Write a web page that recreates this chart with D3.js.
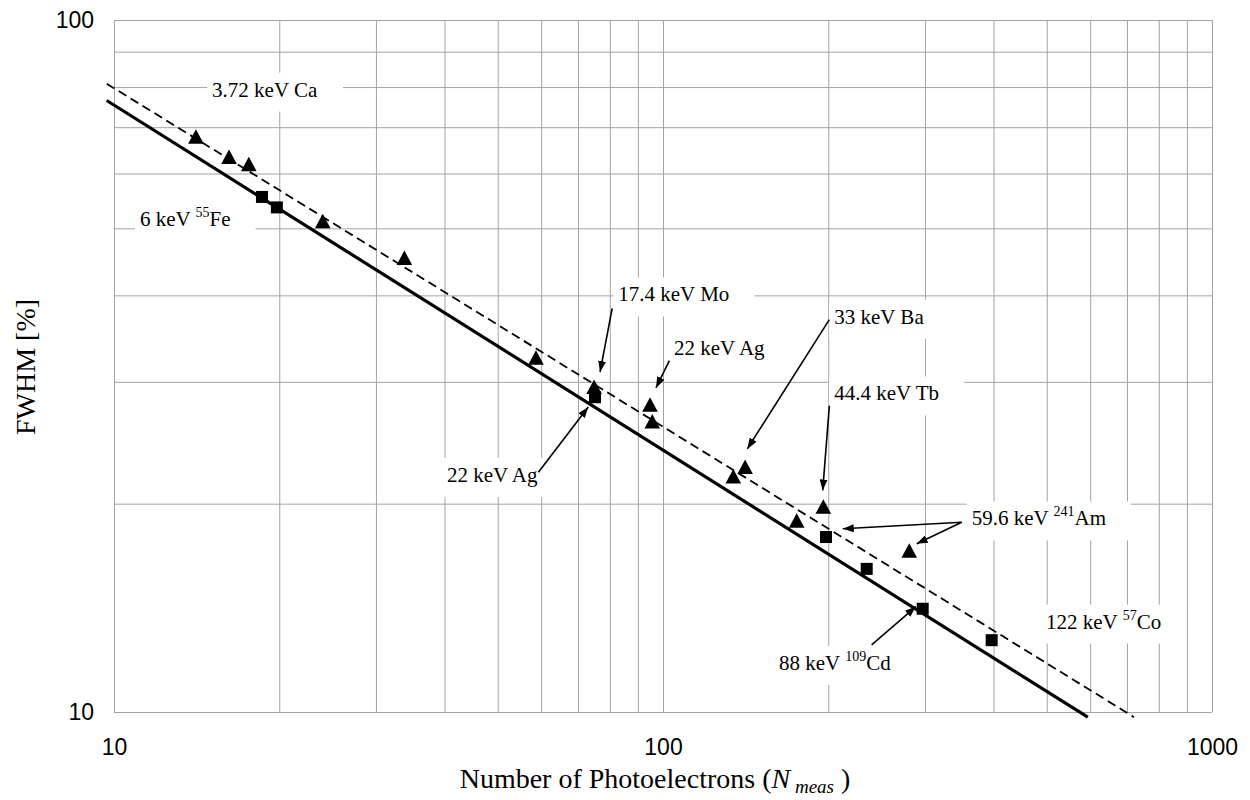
<!DOCTYPE html>
<html>
<head>
<meta charset="utf-8">
<script src="https://cdn.jsdelivr.net/npm/d3@7"></script>
<style>
  html, body { margin: 0; padding: 0; background: #fff; }
  svg { display: block; }
</style>
</head>
<body>
<div id="chart"></div>
<script>
// measured points (N photoelectrons, FWHM %)
const triN = [14.1, 16.2, 17.6, 24.0, 33.8, 58.7, 74.9, 94.7, 95.6, 134.3, 141.1, 175.2, 195.9, 280.9]
const triF = [67.8, 63.4, 61.9, 51.2, 45.3, 32.5, 29.5, 27.8, 26.3, 21.9, 22.6, 18.9, 19.8, 17.1]
const sqN = [18.6, 19.8, 75.2, 198.1, 235.0, 297.2, 396.9]
const sqF = [55.5, 53.6, 28.5, 17.9, 16.1, 14.1, 12.7]

// fitted lines, end points
const solidN = [9.7, 594]
const solidF = [76.5, 9.83]
const dashN = [9.7, 721]
const dashF = [80.9, 9.83]

// axis ticks
const xGrid = [10, 20, 30, 40, 50, 60, 70, 80, 90, 100, 200, 300, 400, 500, 600, 700, 800, 900, 1000]
const yGrid = [10, 20, 30, 40, 50, 60, 70, 80, 90, 100]
const xTickLabels = ['10', '100', '1000']
const yTickLabels = ['10', '100']

// annotations
const labelN = [15.09, 11.15, 82.9, 104.7, 40.4, 205.1, 205.1, 365.0, 498.5, 162.7]
const labelF = [77.5, 50.4, 39.2, 32.8, 21.5, 36.4, 28.2, 18.6, 13.2, 11.5]
const labelMain = ['3.72 keV Ca', '6 keV ', '17.4 keV Mo', '22 keV Ag', '22 keV Ag', '33 keV Ba', '44.4 keV Tb', '59.6 keV ', '122 keV ', '88 keV ']
const labelSup = ['', '55', '', '', '', '', '', '241', '57', '109']
const labelTail = ['', 'Fe', '', '', '', '', '', 'Am', 'Co', 'Cd']

const arrowFromN = [80.8, 102.7, 59.3, 200.9, 200.9, 350.0, 350.0, 239.9]
const arrowFromF = [38.3, 32.2, 22.2, 36.9, 27.7, 18.8, 18.8, 12.5]
const arrowToN = [76.8, 97.1, 73.1, 142.4, 195.4, 212.5, 289.8, 288.9]
const arrowToF = [31.0, 29.4, 27.6, 24.0, 20.9, 18.4, 17.5, 14.2]

const width = 1250
const height = 800
const margin = { top: 20, right: 38, bottom: 88, left: 114 }
const gridColor = '#a3a3a3'
const serif = "'Liberation Serif', 'Times New Roman', Times, serif"
const sans = "'Liberation Sans', Arial, Helvetica, sans-serif"

const svg = d3.select('#chart')
  .append('svg')
  .attr('width', width)
  .attr('height', height)
  .attr('viewBox', [0, 0, width, height])

const xScale = d3.scaleLog()
  .domain([10, 1000])
  .range([margin.left, width - margin.right])
const yScale = d3.scaleLog()
  .domain([10, 100])
  .range([height - margin.bottom, margin.top])

const plotW = width - margin.left - margin.right
const plotH = height - margin.top - margin.bottom

// grid + tick labels through the axes
const axisX = d3.axisBottom(xScale)
  .tickValues(xGrid)
  .tickSize(-plotH)
  .tickPadding(27)
  .tickFormat(d => xTickLabels.includes(String(d)) ? String(d) : '')
const axisY = d3.axisLeft(yScale)
  .tickValues(yGrid)
  .tickSize(-plotW)
  .tickPadding(20)
  .tickFormat(d => yTickLabels.includes(String(d)) ? String(d) : '')

const gx = svg.append('g')
  .attr('class', 'axisX')
  .attr('transform', `translate(0, ${height - margin.bottom})`)
  .call(axisX)
const gy = svg.append('g')
  .attr('class', 'axisY')
  .attr('transform', `translate(${margin.left}, 0)`)
  .call(axisY)
gx.select('.domain').remove()
gy.select('.domain').remove()
svg.selectAll('.tick line')
  .attr('stroke', gridColor)
  .attr('stroke-width', 1)
svg.selectAll('.tick text')
  .attr('fill', '#000')
  .attr('font-size', 23)
  .attr('font-family', sans)

// label backgrounds and texts
const labels = svg.append('g').attr('class', 'labels')
const labelG = labels.selectAll('g')
  .data(labelMain.map((t, i) => ({ main: t, sup: labelSup[i], tail: labelTail[i], n: labelN[i], f: labelF[i] })))
  .join('g')
const boxes = labelG.append('rect').attr('fill', '#fff')
const texts = labelG.append('text')
  .attr('x', d => xScale(d.n))
  .attr('y', d => yScale(d.f))
  .attr('font-family', serif)
  .attr('font-size', 21)
  .attr('fill', '#000')
texts.append('tspan').text(d => d.main)
texts.filter(d => d.sup).append('tspan')
  .attr('font-size', 14)
  .attr('dy', -9)
  .text(d => d.sup)
texts.filter(d => d.sup).append('tspan')
  .attr('dy', 9)
  .text(d => d.tail)
texts.each(function (d) {
  const b = this.getBBox()
  d.box = { x: b.x - 5, y: yScale(d.f) - 24, w: b.width + 30, h: 39 }
})
boxes
  .attr('x', d => d.box.x)
  .attr('y', d => d.box.y)
  .attr('width', d => d.box.w)
  .attr('height', d => d.box.h)

// fit lines
const line = d3.line()
  .x(d => xScale(d[0]))
  .y(d => yScale(d[1]))
svg.append('path')
  .datum(dashN.map((n, i) => [n, dashF[i]]))
  .attr('d', line)
  .attr('fill', 'none')
  .attr('stroke', '#000')
  .attr('stroke-width', 1.8)
  .attr('stroke-dasharray', '9,5')
svg.append('path')
  .datum(solidN.map((n, i) => [n, solidF[i]]))
  .attr('d', line)
  .attr('fill', 'none')
  .attr('stroke', '#000')
  .attr('stroke-width', 3.2)

// markers
svg.append('g')
  .selectAll('path')
  .data(triN.map((n, i) => [n, triF[i]]))
  .join('path')
  .attr('transform', d => `translate(${xScale(d[0])}, ${yScale(d[1])})`)
  .attr('d', 'M0,-7.5L7.8,7L-7.8,7Z')
  .attr('fill', '#000')
svg.append('g')
  .selectAll('rect')
  .data(sqN.map((n, i) => [n, sqF[i]]))
  .join('rect')
  .attr('x', d => xScale(d[0]) - 6)
  .attr('y', d => yScale(d[1]) - 6)
  .attr('width', 12)
  .attr('height', 12)
  .attr('fill', '#000')

// arrows
svg.append('defs')
  .append('marker')
  .attr('id', 'head')
  .attr('viewBox', '0 0 11 8')
  .attr('refX', 11)
  .attr('refY', 4)
  .attr('markerWidth', 11)
  .attr('markerHeight', 8)
  .attr('markerUnits', 'userSpaceOnUse')
  .attr('orient', 'auto')
  .append('path')
  .attr('d', 'M0,0L11,4L0,8Z')
  .attr('fill', '#000')
svg.append('g')
  .selectAll('line')
  .data(arrowFromN.map((n, i) => ({ n0: n, f0: arrowFromF[i], n1: arrowToN[i], f1: arrowToF[i] })))
  .join('line')
  .attr('x1', d => xScale(d.n0))
  .attr('y1', d => yScale(d.f0))
  .attr('x2', d => xScale(d.n1))
  .attr('y2', d => yScale(d.f1))
  .attr('stroke', '#000')
  .attr('stroke-width', 1.6)
  .attr('marker-end', 'url(#head)')

// axis titles
const xTitle = svg.append('text')
  .attr('x', margin.left + plotW / 2 - 8)
  .attr('y', 788)
  .attr('text-anchor', 'middle')
  .attr('font-family', serif)
  .attr('font-size', 28)
  .attr('fill', '#000')
xTitle.append('tspan').text('Number of Photoelectrons (')
xTitle.append('tspan').attr('font-style', 'italic').text('N')
xTitle.append('tspan').attr('font-style', 'italic').attr('font-size', 19).attr('dy', 5).text(' meas')
xTitle.append('tspan').attr('dy', -5).text(' )')

svg.append('text')
  .attr('transform', `translate(35, ${margin.top + plotH / 2 + 1}) rotate(-90)`)
  .attr('text-anchor', 'middle')
  .attr('font-family', serif)
  .attr('font-size', 28)
  .attr('fill', '#000')
  .text('FWHM [%]')
</script>
</body>
</html>
